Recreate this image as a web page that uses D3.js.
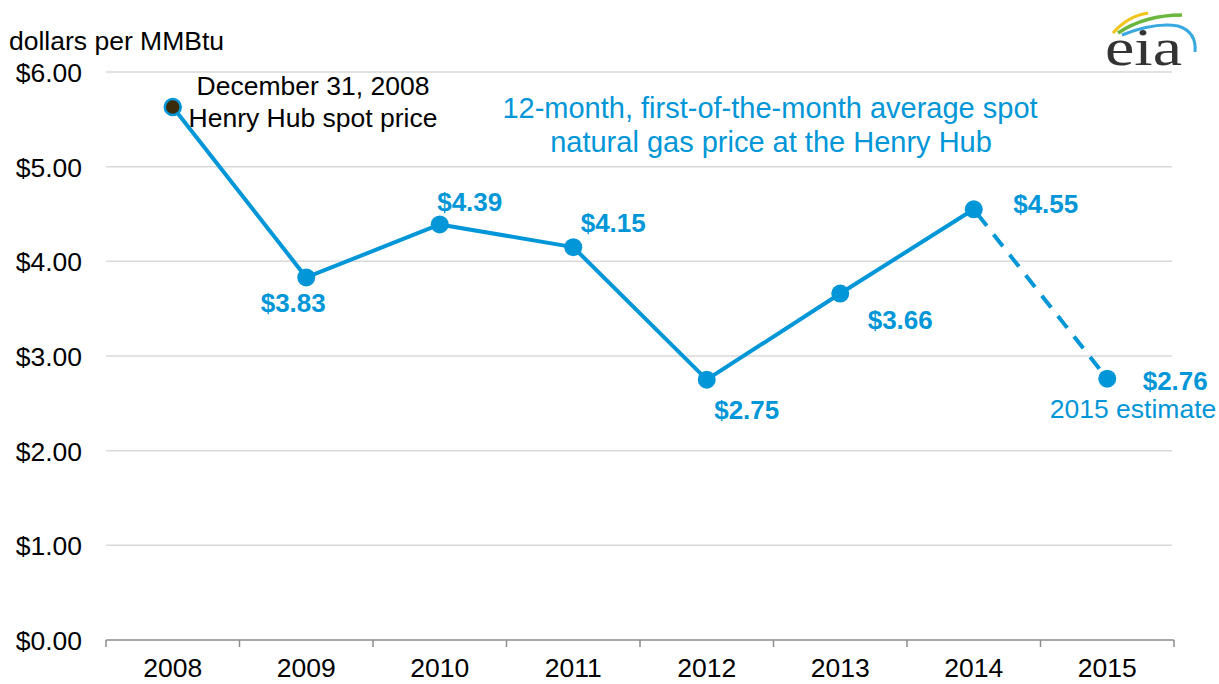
<!DOCTYPE html>
<html><head><meta charset="utf-8">
<script src="https://cdn.jsdelivr.net/npm/d3@7"></script>
<style>body{margin:0;background:#fff}svg{display:block}</style>
</head><body><svg id="c" width="1219" height="684" font-family="Liberation Sans, Arial, sans-serif"></svg>
<script>
const years = ["2008","2009","2010","2011","2012","2013","2014","2015"];
const prices = [5.63, 3.83, 4.39, 4.15, 2.75, 3.66, 4.55, 2.76];
const priceLabels = ["", "$3.83", "$4.39", "$4.15", "$2.75", "$3.66", "$4.55", "$2.76"];
const yTicks = [0, 1, 2, 3, 4, 5, 6];

const svg = d3.select("#c");
const blue = "#0096d7";
const x = d3.scaleBand().domain(years).range([106, 1174]);
const y = d3.scaleLinear().domain([0, 6]).range([640, 72]);
const cx = d => x(d) + x.bandwidth() / 2;

// gridlines
svg.append("g").selectAll("line").data(yTicks.filter(t => t > 0)).join("line")
  .attr("x1", 106).attr("x2", 1172).attr("y1", d => y(d)).attr("y2", d => y(d))
  .attr("stroke", "#d9d9d9").attr("stroke-width", 1.5);

// y axis labels
svg.append("g").selectAll("text").data(yTicks).join("text")
  .attr("x", 82).attr("y", d => y(d) + 10).attr("text-anchor", "end")
  .attr("font-size", 26.5).attr("fill", "#000").text(d => "$" + d.toFixed(2));

svg.append("text").attr("x", 9).attr("y", 50).attr("font-size", 26.5).text("dollars per MMBtu");

// x axis
const xa = svg.append("g").attr("transform", "translate(0,640)")
  .call(d3.axisBottom(x).tickSize(0).tickPadding(18));
xa.select(".domain").remove();
xa.attr("font-size", null).attr("font-family", null);
xa.selectAll("text").attr("font-size", 26.5).attr("fill", "#000").attr("dy", "0.71em");
svg.append("line").attr("x1", 106).attr("x2", 1174).attr("y1", 640).attr("y2", 640).attr("stroke", "#8c8c8c").attr("stroke-width", 1.5);
const bounds = years.map(d => x(d)).concat([x(years[years.length - 1]) + x.bandwidth()]);
svg.append("g").selectAll("line").data(bounds).join("line")
  .attr("x1", d => d).attr("x2", d => d).attr("y1", 640).attr("y2", 647)
  .attr("stroke", "#8c8c8c").attr("stroke-width", 1.5);

// lines
const pts = years.map((yr, i) => ({yr, v: prices[i]}));
const line = d3.line().x(d => cx(d.yr)).y(d => y(d.v));
svg.append("path").datum(pts.slice(0, 7)).attr("d", line)
  .attr("fill", "none").attr("stroke", blue).attr("stroke-width", 4).attr("stroke-linejoin", "round");
svg.append("path").datum(pts.slice(6)).attr("d", line)
  .attr("fill", "none").attr("stroke", blue).attr("stroke-width", 4)
  .attr("stroke-dasharray", "15,11").attr("stroke-dashoffset", -6);

// points
svg.append("g").selectAll("circle").data(pts).join("circle")
  .attr("cx", d => cx(d.yr)).attr("cy", d => y(d.v))
  .attr("r", (d, i) => i === 0 ? 8 : 9)
  .attr("fill", (d, i) => i === 0 ? "#3b2c0c" : blue)
  .attr("stroke", blue).attr("stroke-width", (d, i) => i === 0 ? 2.5 : 0);

// value labels
const offs = [null, [-13, 35], [30, -13], [40, -15], [40, 39], [60, 35], [72, 4], [68, 11]];
svg.append("g").selectAll("text").data(pts.slice(1)).join("text")
  .attr("x", (d, i) => cx(d.yr) + offs[i + 1][0]).attr("y", (d, i) => y(d.v) + offs[i + 1][1])
  .attr("text-anchor", "middle").attr("font-size", 26).attr("font-weight", "bold").attr("fill", blue)
  .text((d, i) => priceLabels[i + 1]);

svg.append("text").attr("x", 1133).attr("y", 418).attr("text-anchor", "middle")
  .attr("font-size", 26.5).attr("fill", blue).text("2015 estimate");

// annotations
svg.append("text").attr("x", 313).attr("y", 95).attr("text-anchor", "middle").attr("font-size", 26.5).text("December 31, 2008");
svg.append("text").attr("x", 313).attr("y", 127).attr("text-anchor", "middle").attr("font-size", 26.5).text("Henry Hub spot price");
svg.append("text").attr("x", 770).attr("y", 118).attr("text-anchor", "middle").attr("font-size", 29).attr("fill", blue).text("12-month, first-of-the-month average spot");
svg.append("text").attr("x", 771).attr("y", 152).attr("text-anchor", "middle").attr("font-size", 29).attr("fill", blue).text("natural gas price at the Henry Hub");

// eia logo
const lg = svg.append("g");
lg.append("path").attr("d", "M1113,33 Q1128,16 1148,13").attr("fill", "none").attr("stroke", "#f2c318").attr("stroke-width", 3);
lg.append("path").attr("d", "M1118,33 Q1145,15 1182,15").attr("fill", "none").attr("stroke", "#6ab63e").attr("stroke-width", 3.5);
lg.append("path").attr("d", "M1122,35 Q1155,22 1178,26 Q1197,32 1195,52").attr("fill", "none").attr("stroke", "#38a8e0").attr("stroke-width", 3);
lg.append("text").attr("x", 1105).attr("y", 65).attr("font-family", "Liberation Serif, DejaVu Serif, serif")
  .attr("font-size", 52).attr("textLength", 77).attr("lengthAdjust", "spacingAndGlyphs").attr("fill", "#333").text("eia");
</script></body></html>
